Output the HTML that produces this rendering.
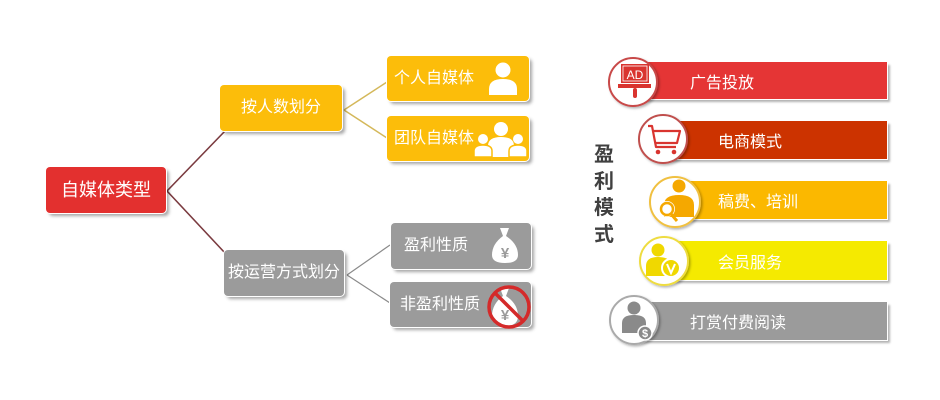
<!DOCTYPE html>
<html><head><meta charset="utf-8">
<style>
html,body{margin:0;padding:0;background:#fff;}
body{width:940px;height:400px;position:relative;overflow:hidden;font-family:"Liberation Sans","Noto Sans CJK SC",sans-serif;}
.b{position:absolute;color:#fff;font-size:16px;line-height:1;display:flex;align-items:center;border-radius:4px;box-shadow:0 0 0 1px #fff,3px 3px 3px rgba(0,0,0,0.35);box-sizing:border-box;}
.c{justify-content:center;}
.bar{position:absolute;color:#fff;font-size:16px;display:flex;align-items:center;box-shadow:0 0 0 1px #fff,3px 3px 2px rgba(0,0,0,0.3);box-sizing:border-box;}
svg{position:absolute;left:0;top:0;}
.v{position:absolute;left:592px;top:142px;width:24px;font-size:20px;font-weight:bold;color:#404040;line-height:26.5px;text-align:center;}
</style></head><body>
<svg width="940" height="400" style="z-index:0">
<line x1="167" y1="191" x2="225" y2="131" stroke="#7a3a3f" stroke-width="1.6"/>
<line x1="167" y1="191" x2="225" y2="253" stroke="#7a3a3f" stroke-width="1.6"/>
<line x1="344" y1="110" x2="387" y2="82" stroke="#d4b85a" stroke-width="1.5"/>
<line x1="344" y1="110" x2="387" y2="138" stroke="#d4b85a" stroke-width="1.5"/>
<line x1="347" y1="275" x2="390" y2="245" stroke="#8a8a8a" stroke-width="1.2"/>
<line x1="347" y1="275" x2="390" y2="303" stroke="#8a8a8a" stroke-width="1.2"/>
</svg>

<div class="b c" style="left:46px;top:167px;width:120px;height:46px;background:#e3302f;font-size:18px;">自媒体类型</div>
<div class="b c" style="left:220px;top:85px;width:122px;height:46px;background:#fcbd0a;">按人数划分</div>
<div class="b c" style="left:224px;top:250px;width:120px;height:46px;background:#9b9b9b;">按运营方式划分</div>

<div class="b" style="left:387px;top:56px;width:142px;height:45px;background:#fcbd0a;padding-left:7px;">个人自媒体</div>
<div class="b" style="left:387px;top:116px;width:142px;height:45px;background:#fcbd0a;padding-left:7px;">团队自媒体</div>
<div class="b" style="left:391px;top:223px;width:140px;height:46px;background:#9b9b9b;padding-left:13px;">盈利性质</div>
<div class="b" style="left:390px;top:282px;width:141px;height:45px;background:#9b9b9b;padding-left:10px;">非盈利性质</div>

<div class="bar" style="left:633px;top:62px;width:254px;height:37px;background:#e53535;padding-left:57px;">广告投放</div>
<div class="bar" style="left:663px;top:121px;width:224px;height:38px;background:#cc3300;padding-left:55px;">电商模式</div>
<div class="bar" style="left:675px;top:181px;width:212px;height:38px;background:#fbb800;padding-left:43px;">稿费、培训</div>
<div class="bar" style="left:664px;top:241px;width:223px;height:39px;background:#f5ea00;padding-left:54px;">会员服务</div>
<div class="bar" style="left:634px;top:302px;width:253px;height:38px;background:#9b9b9b;padding-left:56px;">打赏付费阅读</div>

<div class="v">盈<br>利<br>模<br>式</div>

<svg width="940" height="400" style="z-index:2">
<defs>
<filter id="sh" x="-20%" y="-20%" width="150%" height="150%"><feDropShadow dx="1.5" dy="1.5" stdDeviation="1.2" flood-color="#000" flood-opacity="0.3"/></filter>
</defs>
<g fill="#fff">
<circle cx="503" cy="70" r="7.5"/>
<path d="M489,95 L489,89 Q489,79 503,79 Q517,79 517,89 L517,95 Z"/>
<circle cx="501" cy="129" r="7"/>
<path d="M488,157 L488,146 Q488,137 501,137 Q514,137 514,146 L514,157 Z"/>
<circle cx="483" cy="139" r="5"/>
<path d="M474,157 L474,151 Q474,145 483,145 Q492,145 492,151 L492,157 Z" stroke="#fcbd0a" stroke-width="1.5"/>
<circle cx="518" cy="139" r="5"/>
<path d="M509,157 L509,151 Q509,145 518,145 Q527,145 527,151 L527,157 Z" stroke="#fcbd0a" stroke-width="1.5"/>
<path d="M500,228 L509,228 L506,236 Q518,244 518,255 Q518,263 505,263 Q492,263 492,255 Q492,244 503,236 Z"/>
<path d="M500,288 L509,288 L506,296 Q518,304 518,316 Q518,326 505,326 Q492,326 492,316 Q492,304 503,296 Z"/>
</g>
<text x="505" y="258" font-size="15" font-weight="bold" fill="#9b9b9b" text-anchor="middle" font-family="Liberation Sans, Noto Sans CJK SC, sans-serif">¥</text>
<text x="505" y="320" font-size="15" font-weight="bold" fill="#9b9b9b" text-anchor="middle" font-family="Liberation Sans, Noto Sans CJK SC, sans-serif">¥</text>
<circle cx="509" cy="307" r="20" fill="none" stroke="#d42a2a" stroke-width="3.5"/>
<line x1="495" y1="293" x2="523" y2="321" stroke="#d42a2a" stroke-width="3.5"/>

<g stroke-width="2" fill="#fff" filter="url(#sh)">
<circle cx="633" cy="82" r="24" stroke="#c84a48"/>
<circle cx="663" cy="139" r="24" stroke="#c0504d"/>
<circle cx="675" cy="202" r="25" stroke="#f0c040"/>
<circle cx="664" cy="261" r="24" stroke="#eedc40"/>
<circle cx="634" cy="320" r="24" stroke="#aaaaaa"/>
</g>
<rect x="621" y="64" width="28" height="19" fill="#d9342f"/>
<rect x="623" y="66" width="24" height="15" fill="none" stroke="#fff" stroke-width="0.8"/>
<text x="635" y="79" font-size="12" fill="#fff" text-anchor="middle" font-family="Liberation Sans, sans-serif">AD</text>
<rect x="618" y="84" width="33" height="4" fill="#d9342f"/>
<rect x="633" y="88" width="4" height="10" rx="2" fill="#d9342f"/>
<g fill="none" stroke="#d9342f" stroke-width="2.2" stroke-linejoin="round">
<path d="M648,126 L652,126 L656,147 L676,147"/>
<path d="M653,131 L680,131 L677,143 L655,143"/>
</g>
<circle cx="658" cy="152" r="2.3" fill="#d9342f"/>
<circle cx="674" cy="152" r="2.3" fill="#d9342f"/>
<g fill="#f5a800">
<circle cx="679" cy="186" r="6.5"/>
<path d="M664,217 L664,205 Q664,195 679,195 Q694,195 694,205 L694,217 Z"/>
</g>
<circle cx="667" cy="209" r="8" fill="#fff"/>
<circle cx="667" cy="209" r="6" fill="none" stroke="#f5a800" stroke-width="2.5"/>
<line x1="671" y1="214" x2="677" y2="221" stroke="#f5a800" stroke-width="3"/>
<g fill="#f0d800">
<circle cx="658" cy="250" r="6.5"/>
<path d="M646,276 L646,266 Q646,257 658,257 Q668,257 670,262 L670,276 Z"/>
</g>
<circle cx="671" cy="268" r="9" fill="#f0d800" stroke="#fff" stroke-width="2"/>
<path d="M667,264 L671,273 L675,264" fill="none" stroke="#fff" stroke-width="2"/>
<g fill="#8a8a8a">
<circle cx="634" cy="308" r="6.5"/>
<path d="M622,333 L622,323 Q622,315 634,315 Q646,315 646,323 L646,333 Z"/>
</g>
<circle cx="645" cy="333" r="7" fill="#8a8a8a" stroke="#fff" stroke-width="1.5"/>
<text x="645" y="337" font-size="11" font-weight="bold" fill="#fff" text-anchor="middle" font-family="Liberation Sans, sans-serif">$</text>
</svg>
</body></html>
